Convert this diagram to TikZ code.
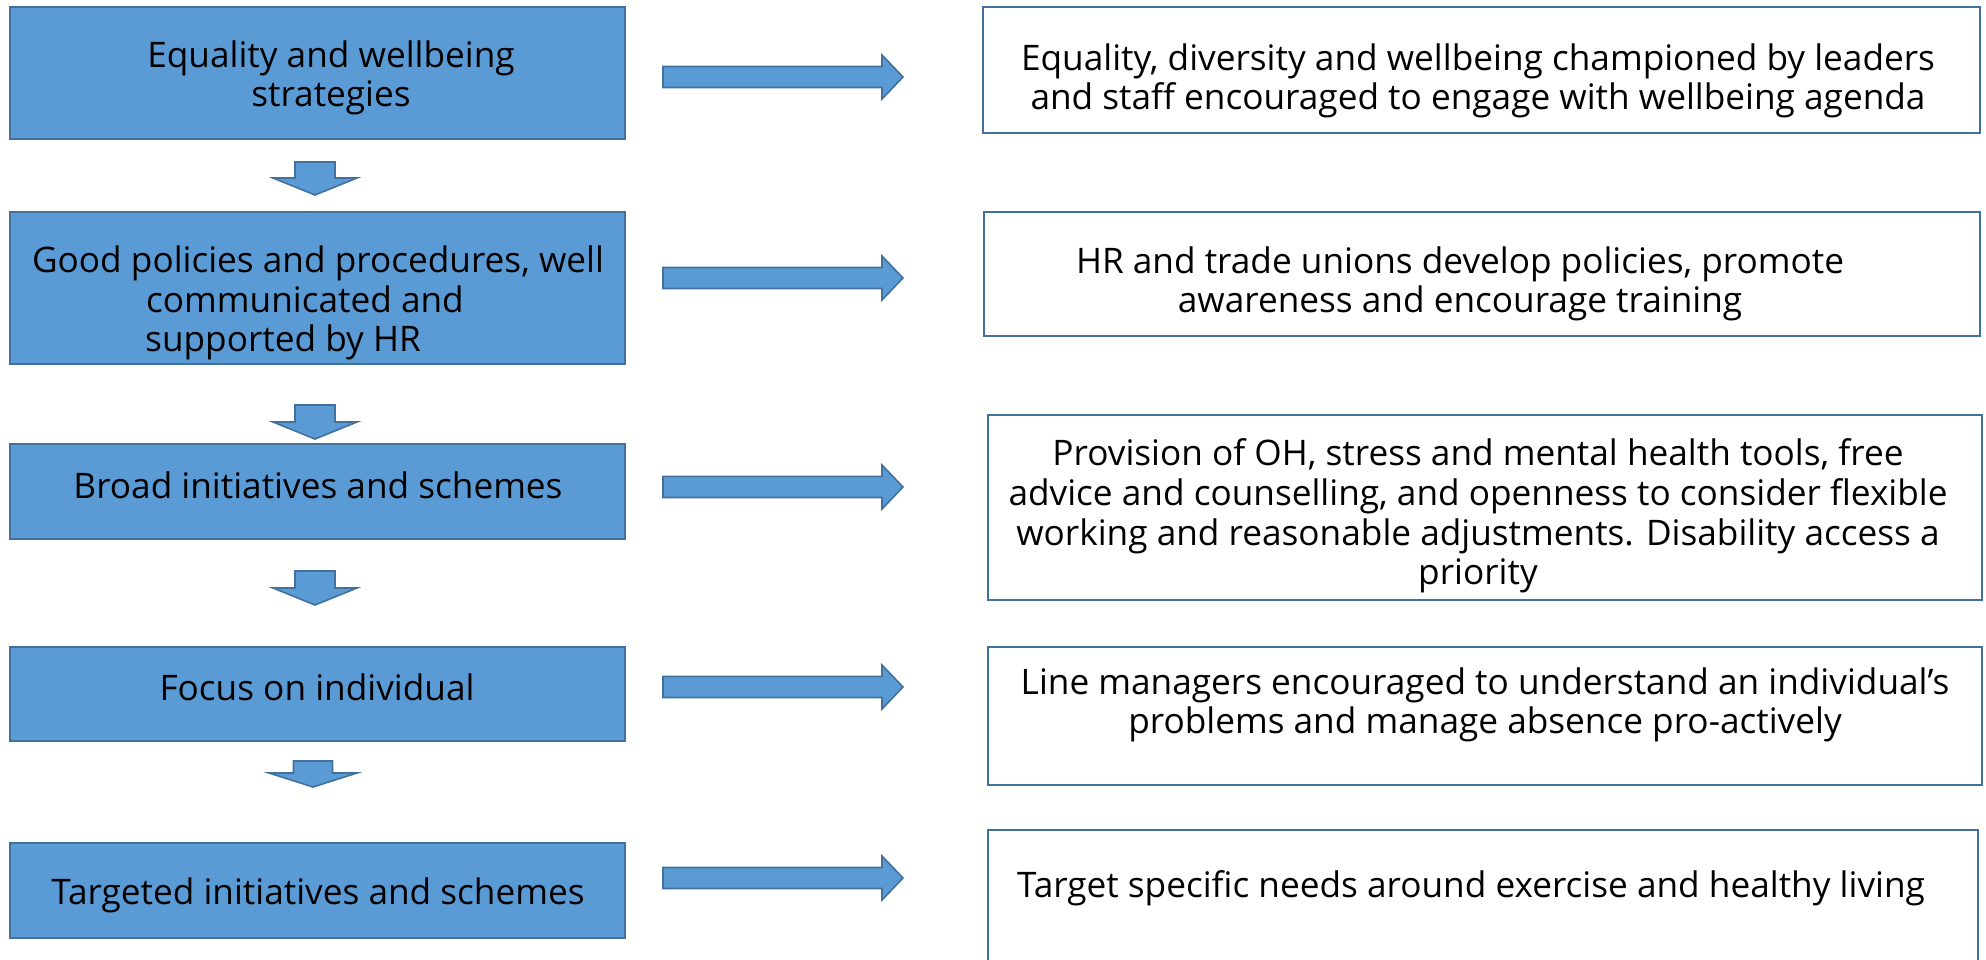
\documentclass[tikz,border=0pt]{standalone}
\usepackage{fontspec}
\setmainfont{Open Sans}
\usetikzlibrary{fit}
\definecolor{boxblue}{HTML}{5B9BD5}
\definecolor{edgeblue}{HTML}{41719C}

% right-pointing block arrow: tail x, centre y, tip x
\newcommand\RArrow[3]{%
  \draw[blockarrow] (#1,#2-10.5) -- (#3-21,#2-10.5) -- (#3-21,#2-22) -- (#3,#2)
    -- (#3-21,#2+22) -- (#3-21,#2+10.5) -- (#1,#2+10.5) -- cycle;}
% down-pointing block arrow: centre x, top y, shaft length, head length, shaft half width, head half width
\newcommand\DArrow[6]{%
  \draw[blockarrow] (#1-#5,#2) -- (#1+#5,#2) -- (#1+#5,#2+#3) -- (#1+#6,#2+#3)
    -- (#1,#2+#3+#4) -- (#1-#6,#2+#3) -- (#1-#5,#2+#3) -- cycle;}

\begin{document}
\begin{tikzpicture}[x=0.5pt,y=-0.5pt,
  stage/.style={draw=edgeblue, fill=boxblue, line width=1pt, inner sep=0pt},
  outcome/.style={draw=edgeblue, fill=white, line width=1.1pt, inner sep=0pt},
  txt/.style={align=center, inner sep=0pt, font=\fontsize{17.6}{19.8}\selectfont},
  blockarrow/.style={draw=edgeblue, fill=boxblue, line width=0.8pt, line join=miter}]
\useasboundingbox (0,0) rectangle (1986,959);

% left column: stages
\node[stage, fit={(10,7)(625,139)}]   (L1) {};
\node[stage, fit={(10,212)(625,364)}] (L2) {};
\node[stage, fit={(10,444)(625,539)}] (L3) {};
\node[stage, fit={(10,647)(625,741)}] (L4) {};
\node[stage, fit={(10,843)(625,938)}] (L5) {};

\node[txt] (L1t) at (331,78) {Equality and wellbeing\\strategies};
\node[txt] (L2t) at (318,303) {Good policies and procedures, well\\\mbox{communicated and\kern13pt}\\\mbox{supported by HR\kern35pt}};
\node[txt] (L3t) at (318,485) {Broad initiatives and schemes};
\node[txt] (L4t) at (317,687) {Focus on individual};
\node[txt] (L5t) at (318,895) {Targeted initiatives and schemes};

% right column: outcomes
\node[outcome, fit={(983,7)(1980,133)}]   (R1) {};
\node[outcome, fit={(984,212)(1980,336)}] (R2) {};
\node[outcome, fit={(988,415)(1982,600)}] (R3) {};
\node[outcome, fit={(988,647)(1982,785)}] (R4) {};
\node[outcome, fit={(988,830)(1978,975)}] (R5) {};

\node[txt] (R1t) at (1478,81) {Equality, diversity and wellbeing championed by leaders\\and staff encouraged to engage with wellbeing agenda};
\node[txt] (R2t) at (1460,284) {HR and trade unions develop policies, promote\\awareness and encourage training};
\node[txt] (R3t) at (1478,516) {Provision of OH, stress and mental health tools, free\\advice and counselling, and openness to consider flexible\\working and reasonable adjustments. Disability access a\\priority};
\node[txt] (R4t) at (1485,705) {Line managers encouraged to understand an individual’s\\problems and manage absence pro-actively};
\node[txt] (R5t) at (1471,888) {Target specific needs around exercise and healthy living};

% block arrows
\RArrow{663}{77}{903}
\RArrow{663}{278}{903}
\RArrow{663}{487}{903}
\RArrow{663}{687}{903}
\RArrow{663}{878}{903}

\DArrow{315}{162}{16}{17}{20}{42}
\DArrow{315}{405}{17}{17}{20}{42}
\DArrow{315}{571}{17}{17}{20}{42}
\DArrow{313}{761}{12}{14}{19.5}{44}
\end{tikzpicture}
\end{document}
